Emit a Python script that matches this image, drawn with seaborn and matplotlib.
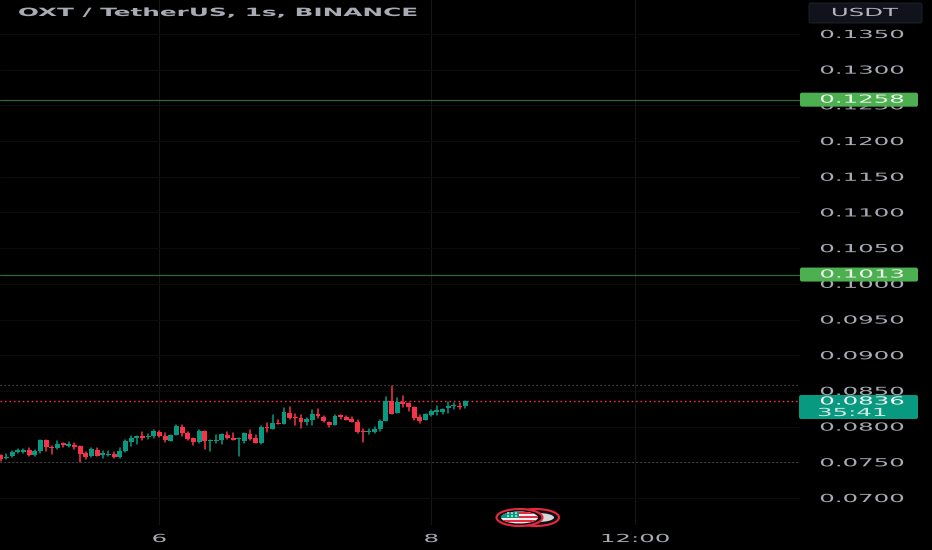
import pandas as pd
import matplotlib
matplotlib.use("Agg")
import matplotlib.pyplot as plt
import matplotlib.patheffects as pe
from matplotlib.patches import Ellipse, FancyBboxPatch, Rectangle
from matplotlib.transforms import Affine2D
import seaborn as sns

# --- candle values ---
opens = [
    0.07598, 0.07556, 0.07584, 0.07644, 0.07649, 0.07668, 0.07598, 0.07658, 0.07812, 0.07719,
    0.07696, 0.07766, 0.07728, 0.07747, 0.07728, 0.07630, 0.07584, 0.07677, 0.07607, 0.07602,
    0.07621, 0.07574, 0.07654, 0.07784, 0.07845, 0.07868, 0.07854, 0.07864, 0.07929, 0.07864,
    0.07803, 0.07882, 0.07999, 0.07915, 0.07840, 0.07784, 0.07934, 0.07794, 0.07794, 0.07812,
    0.07882, 0.07840, 0.07822, 0.07803, 0.07901, 0.07836, 0.07770, 0.07999, 0.07971, 0.08046,
    0.08041, 0.08186, 0.08130, 0.08125, 0.08065, 0.08088, 0.08177, 0.08139, 0.08065, 0.08023,
    0.08158, 0.08139, 0.08111, 0.08065, 0.07938, 0.07924, 0.07929, 0.07966, 0.08083, 0.08354,
    0.08195, 0.08345, 0.08326, 0.08275, 0.08139, 0.08093, 0.08163, 0.08209, 0.08209, 0.08261,
    0.08284, 0.08293, 0.08293,
]
closes = [
    0.07542, 0.07579, 0.07649, 0.07668, 0.07668, 0.07602, 0.07658, 0.07808, 0.07714, 0.07696,
    0.07752, 0.07742, 0.07761, 0.07710, 0.07616, 0.07570, 0.07686, 0.07593, 0.07621, 0.07616,
    0.07570, 0.07658, 0.07798, 0.07845, 0.07864, 0.07840, 0.07873, 0.07934, 0.07864, 0.07817,
    0.07878, 0.08009, 0.07906, 0.07831, 0.07784, 0.07934, 0.07798, 0.07808, 0.07812, 0.07892,
    0.07836, 0.07817, 0.07836, 0.07906, 0.07826, 0.07770, 0.07999, 0.07976, 0.08051, 0.08037,
    0.08200, 0.08116, 0.08116, 0.08065, 0.08107, 0.08177, 0.08144, 0.08074, 0.08023, 0.08153,
    0.08139, 0.08093, 0.08065, 0.07924, 0.07924, 0.07938, 0.07971, 0.08074, 0.08354, 0.08181,
    0.08349, 0.08317, 0.08279, 0.08121, 0.08083, 0.08177, 0.08214, 0.08228, 0.08242, 0.08293,
    0.08303, 0.08275, 0.08354,
]
highs = [
    0.07607, 0.07612, 0.07654, 0.07682, 0.07686, 0.07696, 0.07677, 0.07808, 0.07812, 0.07728,
    0.07794, 0.07766, 0.07784, 0.07770, 0.07728, 0.07649, 0.07696, 0.07696, 0.07658, 0.07654,
    0.07644, 0.07705, 0.07808, 0.07868, 0.07864, 0.07924, 0.07896, 0.07952, 0.07943, 0.07906,
    0.07882, 0.08018, 0.08018, 0.07929, 0.07845, 0.07948, 0.07934, 0.07817, 0.07878, 0.07892,
    0.07929, 0.07906, 0.07845, 0.07906, 0.07952, 0.07878, 0.08013, 0.08046, 0.08163, 0.08088,
    0.08261, 0.08275, 0.08177, 0.08163, 0.08121, 0.08233, 0.08247, 0.08153, 0.08069, 0.08163,
    0.08167, 0.08144, 0.08135, 0.08093, 0.07966, 0.07966, 0.07999, 0.08093, 0.08415, 0.08574,
    0.08396, 0.08424, 0.08326, 0.08275, 0.08163, 0.08177, 0.08233, 0.08284, 0.08251, 0.08340,
    0.08326, 0.08326, 0.08363,
]
lows = [
    0.07523, 0.07551, 0.07579, 0.07635, 0.07630, 0.07588, 0.07588, 0.07626, 0.07663, 0.07616,
    0.07686, 0.07714, 0.07714, 0.07686, 0.07500, 0.07546, 0.07579, 0.07588, 0.07565, 0.07588,
    0.07556, 0.07565, 0.07649, 0.07728, 0.07756, 0.07817, 0.07822, 0.07840, 0.07850, 0.07784,
    0.07798, 0.07878, 0.07868, 0.07817, 0.07747, 0.07775, 0.07686, 0.07658, 0.07766, 0.07756,
    0.07826, 0.07812, 0.07588, 0.07775, 0.07808, 0.07770, 0.07756, 0.07924, 0.07966, 0.08037,
    0.08037, 0.08102, 0.08023, 0.07980, 0.08023, 0.08023, 0.08116, 0.08069, 0.07994, 0.08018,
    0.08111, 0.08088, 0.08060, 0.07910, 0.07784, 0.07892, 0.07910, 0.07934, 0.08079, 0.08177,
    0.08191, 0.08275, 0.08219, 0.08097, 0.08051, 0.08088, 0.08153, 0.08163, 0.08177, 0.08186,
    0.08251, 0.08247, 0.08256,
]

price_ticks = [0.0700, 0.0750, 0.0800, 0.0850, 0.0900, 0.0950, 0.1000, 0.1050,
               0.1100, 0.1150, 0.1200, 0.1250, 0.1300, 0.1350]
time_ticks = [28, 76, 112]
time_labels = ["6", "8", "12:00"]
level_prices = [0.1258, 0.1013]
last_price = 0.0836
session_high = 0.0858
session_low = 0.0750
countdown = "35:41"

GREEN = "#089981"
RED = "#f7334a"
LABEL_GREY = "#a8abb3"
W, H = 932, 550


class StretchX(pe.AbstractPathEffect):
    # the reference is squeezed vertically, so widen the glyphs about their centre
    def __init__(self, factor):
        super().__init__()
        self.factor = factor

    def draw_path(self, renderer, gc, tpath, affine, rgbFace=None):
        cx = tpath.get_extents().x0 + tpath.get_extents().width / 2
        wide = Affine2D().translate(-cx, 0).scale(self.factor, 1).translate(cx, 0)
        renderer.draw_path(gc, tpath, wide + affine, rgbFace)


wide_text = [StretchX(2.2)]
title_text = [StretchX(2.17)]

sns.set_theme(style="dark")
plt.rcParams["font.family"] = "DejaVu Sans"

df = pd.DataFrame({"open": opens, "high": highs, "low": lows, "close": closes})
df["candle"] = df.index
df["side"] = ["up" if c >= o else "down" for o, c in zip(df["open"], df["close"])]
df["body_low"] = df[["open", "close"]].min(axis=1)
df["body_size"] = (df["close"] - df["open"]).abs().clip(lower=0.00018)
wicks = df.melt(id_vars=["candle", "side"], value_vars=["high", "low"], value_name="price")

fig = plt.figure(figsize=(W / 100, H / 100), dpi=100, facecolor="black")
ax = fig.add_axes([0, 1 - 525 / H, 800 / W, 525 / H], facecolor="black")

sns.lineplot(data=wicks, x="candle", y="price", hue="side", units="candle", estimator=None,
             palette={"up": GREEN, "down": RED}, linewidth=1.1, legend=False, ax=ax, zorder=3)
for side_name, side_color in [("up", GREEN), ("down", RED)]:
    part = df[df["side"] == side_name]
    sns.barplot(data=part, x="candle", y="body_size", bottom=part["body_low"].values,
                native_scale=True, width=0.88, linewidth=0, color=side_color, saturation=1,
                ax=ax, zorder=4)

# y: 0.1350 sits at pixel 34, 0.0700 at pixel 498
ax.set_xlim(-0.124, 141.07)
ax.set_ylim(0.06622, 0.13976)
ax.set_xlabel("")
ax.set_ylabel("")

ax.yaxis.tick_right()
ax.set_yticks(price_ticks)
ax.set_yticklabels([f"{p:.4f}" for p in price_ticks])
ax.set_xticks(time_ticks)
ax.set_xticklabels(time_labels)
ax.tick_params(axis="y", length=0, pad=44.6, labelsize=8.0, labelcolor=LABEL_GREY)
ax.tick_params(axis="x", length=0, pad=6.5, labelsize=8.0, labelcolor=LABEL_GREY)
for label in ax.get_yticklabels():
    label.set_ha("center")
    label.set_path_effects(wide_text)
for label in ax.get_xticklabels():
    label.set_path_effects(wide_text)

# the grid is barely visible on the black background
ax.grid(True, axis="y", color="#0c0c0c", linewidth=0.8)
ax.grid(True, axis="x", color="#161616", linewidth=0.8)
ax.set_axisbelow(True)
for side in ax.spines.values():
    side.set_visible(False)

# price levels
for level in level_prices:
    ax.axhline(level, color="#2a6a35", linewidth=0.9, zorder=2)
ax.axhline(last_price, color=RED, linewidth=1.0, dashes=(1.2, 2.0), zorder=2)
ax.axhline(session_high, color="#555555", linewidth=0.8, dashes=(1.2, 2.4), zorder=2)
ax.axhline(session_low, color="#555555", linewidth=0.8, dashes=(1.2, 2.4), zorder=2)

# overlay in pixel coordinates for the labels on the price scale and the badge
top = fig.add_axes([0, 0, 1, 1], facecolor="none")
top.set_xlim(0, W)
top.set_ylim(H, 0)
top.axis("off")


def price_y(p):
    return 34 + (0.1350 - p) / 0.0050 * 35.69


def label_box(x0, y0, x1, y1, face, edge="none"):
    box = FancyBboxPatch((x0 + 2, y0 + 2), x1 - x0 - 4, y1 - y0 - 4,
                         boxstyle="round,pad=2,rounding_size=2",
                         facecolor=face, edgecolor=edge, linewidth=0.6)
    top.add_patch(box)


top.text(218, 13, "OXT / TetherUS, 1s, BINANCE", color=LABEL_GREY, fontsize=8.2,
         ha="center", va="center", fontweight="bold", path_effects=title_text)

label_box(809, 3, 922, 23, "#10131c", "#20242e")
top.text(865, 13, "USDT", color="#b2b5be", fontsize=8.0, ha="center", va="center",
         path_effects=wide_text)

for level in level_prices:
    yc = price_y(level)
    label_box(800, yc - 7, 918, yc + 7, "#4caf50")
    top.text(862, yc, f"{level:.4f}", color="#eef5ee", fontsize=8.0, ha="center",
             va="center", path_effects=wide_text)

label_box(799, 395, 918, 419, GREEN)
top.text(862, 401.5, f"{last_price:.4f}", color="#f4f4f4", fontsize=8.0, ha="center",
         va="center", path_effects=wide_text)
top.text(852, 413, countdown, color="#cfe8e1", fontsize=8.0, ha="center", va="center",
         path_effects=wide_text)

# small flag badge near the bottom
top.add_patch(Ellipse((536, 517.5), 46, 17, facecolor="#101018", edgecolor="#e8283c", linewidth=1.5))
top.add_patch(Ellipse((538, 517.5), 32, 9, facecolor="#d8d8d8", edgecolor="none"))
disc = Ellipse((519.5, 517.5), 46, 17, facecolor="#101018", edgecolor="#e8283c", linewidth=1.5)
top.add_patch(disc)
flag = Ellipse((519.5, 517.5), 37, 12, facecolor="#f0f0f0", edgecolor="none")
top.add_patch(flag)
for stripe_y in [511.5, 515.5, 519.5, 523]:
    stripe = Rectangle((500, stripe_y), 40, 2, facecolor="#e8283c", edgecolor="none")
    top.add_patch(stripe)
    stripe.set_clip_path(flag)
canton = Rectangle((500, 510), 19, 8, facecolor=GREEN, edgecolor="none")
top.add_patch(canton)
canton.set_clip_path(flag)
for star_x in [508, 512, 516]:
    for star_y in [513, 516]:
        top.add_patch(Ellipse((star_x, star_y), 1.8, 1.6, facecolor="white", edgecolor="none"))

fig.savefig("out.png", dpi=100, facecolor="black")
